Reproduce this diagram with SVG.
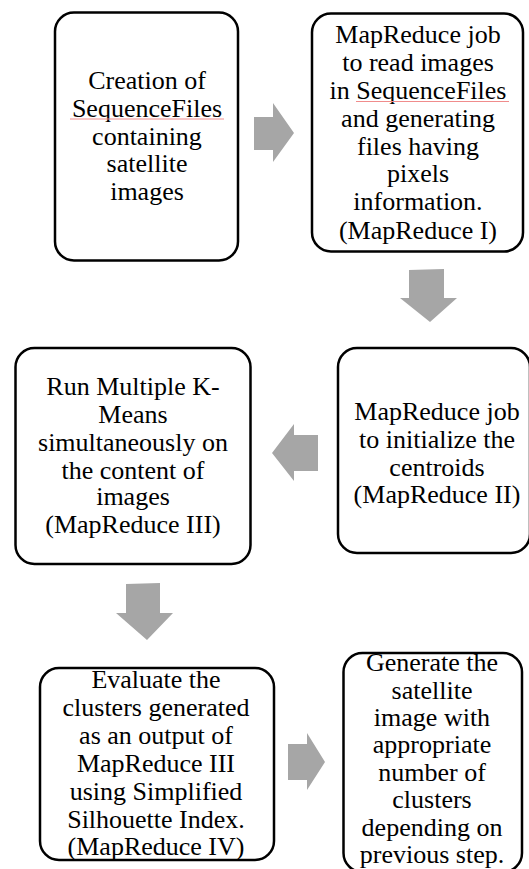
<svg xmlns="http://www.w3.org/2000/svg" width="529" height="869" viewBox="0 0 529 869">
<style>
.box{fill:#fff;stroke:#000;stroke-width:2.5}
.arr{fill:#a6a6a6;stroke:none}
.t{font-size:26px;fill:#000;text-anchor:middle}
.sp{stroke:#f08c8c;stroke-width:1;fill:none}
</style>
<rect width="529" height="869" fill="#fff"/>
<g id="connectors">
<polygon class="arr" points="254,117 273,117 273,103 294,133 273,162 273,150 254,150"/>
<polygon class="arr" points="409,270 444,269 444,298 457,298 430,322 400,298 409,298"/>
<polygon class="arr" points="318,435 294,435 294,424 272,453 294,481 294,471 318,471"/>
<polygon class="arr" points="126,584 160,583 160,613 173,613 147,640 116,613 126,613"/>
<polygon class="arr" points="288,744 307,744 307,733 325,762 307,790 307,780 288,780"/>
</g>
<g font-family="Liberation Serif, Times New Roman, DejaVu Serif, serif">
<g id="n1">
<rect class="box" x="55" y="12.5" width="183" height="248" rx="19"/>
<text class="t"><tspan x="147" y="88.5">Creation of</tspan><tspan x="147" y="116.5">SequenceFiles</tspan><tspan x="147" y="144.5">containing</tspan><tspan x="147" y="172">satellite</tspan><tspan x="147" y="200">images</tspan></text>
<line class="sp" x1="70" y1="119" x2="224" y2="119"/>
</g>
<g id="n2">
<rect class="box" x="312" y="13.5" width="211" height="238" rx="19"/>
<text class="t"><tspan x="418" y="43">MapReduce job</tspan><tspan x="418" y="71">to read images</tspan><tspan x="418" y="99">in SequenceFiles</tspan><tspan x="418" y="126.7">and generating</tspan><tspan x="418" y="154.5">files having</tspan><tspan x="418" y="182.3">pixels</tspan><tspan x="418" y="210.3">information.</tspan><tspan x="418" y="238.5">(MapReduce I)</tspan></text>
<line class="sp" x1="356" y1="101.5" x2="509" y2="101.5"/>
</g>
<g id="n3">
<rect class="box" x="338" y="348" width="192" height="205" rx="19"/>
<text class="t"><tspan x="437" y="420">MapReduce job</tspan><tspan x="437" y="448">to initialize the</tspan><tspan x="437" y="475.5">centroids</tspan><tspan x="437" y="503">(MapReduce II)</tspan></text>
</g>
<g id="n4">
<rect class="box" x="15.5" y="348" width="235" height="216" rx="19"/>
<text class="t"><tspan x="133" y="395">Run Multiple K-</tspan><tspan x="133" y="422.5">Means</tspan><tspan x="133" y="450.5">simultaneously on</tspan><tspan x="133" y="478.5">the content of</tspan><tspan x="133" y="505">images</tspan><tspan x="133" y="533">(MapReduce III)</tspan></text>
</g>
<g id="n5">
<rect class="box" x="40" y="668" width="234" height="192" rx="19"/>
<text class="t"><tspan x="156" y="688">Evaluate the</tspan><tspan x="156" y="716">clusters generated</tspan><tspan x="156" y="744">as an output of</tspan><tspan x="156" y="772">MapReduce III</tspan><tspan x="156" y="800">using Simplified</tspan><tspan x="156" y="827.5">Silhouette Index.</tspan><tspan x="156" y="855">(MapReduce IV)</tspan></text>
</g>
<g id="n6">
<rect class="box" x="343.5" y="653" width="178.5" height="219" rx="19"/>
<text class="t"><tspan x="432" y="671.2">Generate the</tspan><tspan x="432" y="698.6">satellite</tspan><tspan x="432" y="726">image with</tspan><tspan x="432" y="753.4">appropriate</tspan><tspan x="432" y="780.8">number of</tspan><tspan x="432" y="808.2">clusters</tspan><tspan x="432" y="835.6">depending on</tspan><tspan x="432" y="863">previous step.</tspan></text>
</g>
</g>
</svg>
